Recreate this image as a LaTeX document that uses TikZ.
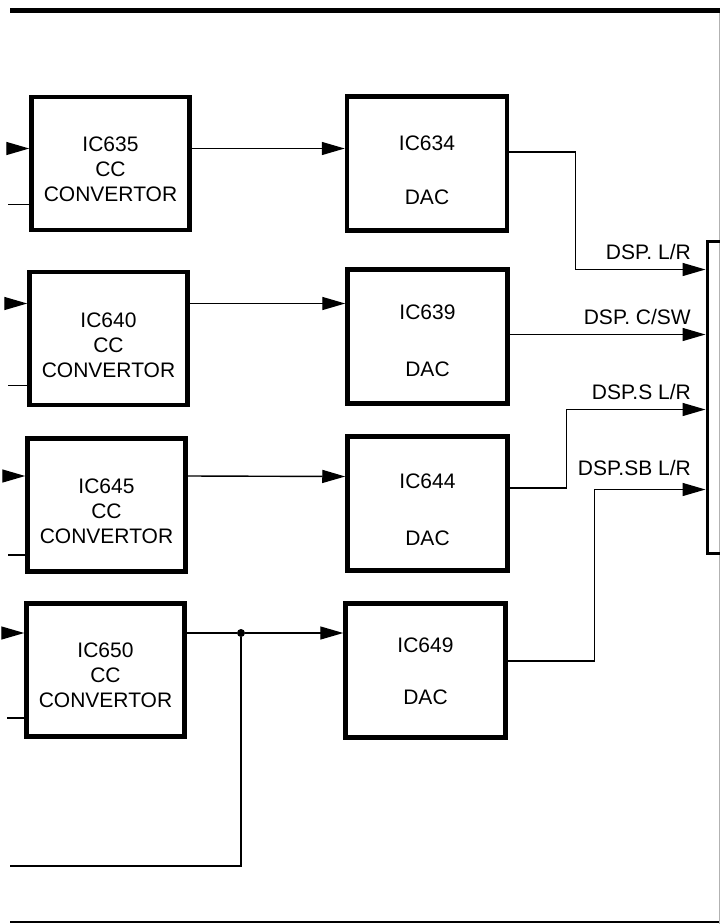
\documentclass[tikz,border=0pt]{standalone}
\usepackage{fontspec}
\setmainfont{Liberation Sans}
\usetikzlibrary{arrows.meta}

\begin{document}
\begin{tikzpicture}[x=1pt, y=-1pt,
		cc/.style = {rectangle, draw, line width=4.5pt, minimum width=158, minimum height=133, inner sep=0},
		dac/.style = {rectangle, draw, line width=4.5pt, minimum width=160, minimum height=134, inner sep=0},
		dsp/.style = {rectangle, draw, line width=3pt, minimum width=60, minimum height=312, inner sep=0},
		txt/.style = {align=center, inner sep=0, font=\fontsize{21}{25}\selectfont},
		lab/.style = {anchor=base east, inner sep=0, font=\fontsize{21}{24}\selectfont},
		dot/.style = {circle, fill, inner sep=0, minimum size=8},
		w/.style = {line width=1.4pt},
		sig/.style = {w, -{Triangle[length=23pt, width=13pt]}}
		]

		\useasboundingbox (0,0) rectangle (720,924);
		\clip (0,0) rectangle (720,924);

		%Frame
		\draw[line width=5pt]		(10,10.5)	--	(720,10.5);
		\draw[line width=2pt]		(10,922)	--	(720,922);
		\draw[gray!60, line width=1pt]	(719,13)	--	(719,924);

		%Nodes
		\node[cc]	(cc1)	at	(110.5,163.5)	{};
		\node[cc]	(cc2)	at	(108.5,338.5)	{};
		\node[cc]	(cc3)	at	(106.5,505)	{};
		\node[cc]	(cc4)	at	(105.5,670)	{};
		\node[dac]	(dac1)	at	(427,163.5)	{};
		\node[dac]	(dac2)	at	(427.5,336.5)	{};
		\node[dac]	(dac3)	at	(427.5,503.5)	{};
		\node[dac]	(dac4)	at	(425.5,670.5)	{};
		\node[dsp]	(dsp)	at	(737,397)	{};
		\node[dot]	(j)	at	(241,633)	{};

		%Texts
		\node[txt]	at	([yshift=-6pt]cc1.center)	{IC635\\CC\\CONVERTOR};
		\node[txt]	at	([yshift=-7pt]cc2.center)	{IC640\\CC\\CONVERTOR};
		\node[txt]	at	([yshift=-6pt]cc3.center)	{IC645\\CC\\CONVERTOR};
		\node[txt]	at	([yshift=-5pt]cc4.center)	{IC650\\CC\\CONVERTOR};
		\node[txt]	at	([yshift=20pt]dac1.center)	{IC634};
		\node[txt]	at	([yshift=-34pt]dac1.center)	{DAC};
		\node[txt]	at	([yshift=24pt]dac2.center)	{IC639};
		\node[txt]	at	([yshift=-33pt]dac2.center)	{DAC};
		\node[txt]	at	([yshift=22pt]dac3.center)	{IC644};
		\node[txt]	at	([yshift=-35pt]dac3.center)	{DAC};
		\node[txt]	at	([yshift=25pt]dac4.center)	{IC649};
		\node[txt]	at	([yshift=-27pt]dac4.center)	{DAC};

		%Inputs on dsp
		\coordinate	(p1)	at	([yshift=-30pt]dsp.north west);
		\coordinate	(p2)	at	([yshift=-95pt]dsp.north west);
		\coordinate	(p3)	at	([yshift=-170pt]dsp.north west);
		\coordinate	(p4)	at	([yshift=-250pt]dsp.north west);

		%Left inputs
		\draw[sig]	([xshift=-21pt, yshift=15pt]cc1.west)	--	([yshift=15pt]cc1.west);
		\draw[w]	([xshift=-21pt, yshift=-41pt]cc1.west)	--	([yshift=-41pt]cc1.west);
		\draw[sig]	([xshift=-19pt, yshift=35pt]cc2.west)	--	([yshift=35pt]cc2.west);
		\draw[w]	([xshift=-19pt, yshift=-47pt]cc2.west)	--	([yshift=-47pt]cc2.west);
		\draw[sig]	([xshift=-17pt, yshift=29pt]cc3.west)	--	([yshift=29pt]cc3.west);
		\draw[w]	([xshift=-17pt, yshift=-50pt]cc3.west)	--	([yshift=-50pt]cc3.west);
		\draw[sig]	([xshift=-17pt, yshift=37pt]cc4.west)	--	([yshift=37pt]cc4.west);
		\draw[w]	([xshift=-17pt, yshift=-48pt]cc4.west)	--	([yshift=-48pt]cc4.west);

		%Lines
		\draw[sig]	([yshift=15pt]cc1.east)	--	([yshift=15pt]dac1.west);
		\draw[sig]	([yshift=35pt]cc2.east)	--	([yshift=33pt]dac2.west);
		\draw[sig]	([yshift=29pt]cc3.east)	--	([yshift=27pt]dac3.west);
		\draw[w]	([yshift=37pt]cc4.east)	--	(j);
		\draw[sig]	(j)	--	([yshift=37.5pt]dac4.west);
		\draw[w]	(j)	|-	(10,866);

		\draw[sig]	([yshift=11.5pt]dac1.east)	-|	([xshift=-130pt]p1)	--	(p1)
			node[lab, pos=1, xshift=-14pt, yshift=10pt]	{DSP. L/R};
		\draw[sig]	(dac2.east |- p2)	--	(p2)
			node[lab, pos=1, xshift=-14pt, yshift=10pt]	{DSP. C/SW};
		\draw[sig]	([yshift=15.5pt]dac3.east)	-|	([xshift=-139pt]p3)	--	(p3)
			node[lab, pos=1, xshift=-14pt, yshift=10pt]	{DSP.S L/R};
		\draw[sig]	([yshift=9.5pt]dac4.east)	-|	([xshift=-111pt]p4)	--	(p4)
			node[lab, pos=1, xshift=-14pt, yshift=14pt]	{DSP.SB L/R};
	\end{tikzpicture}
\end{document}
